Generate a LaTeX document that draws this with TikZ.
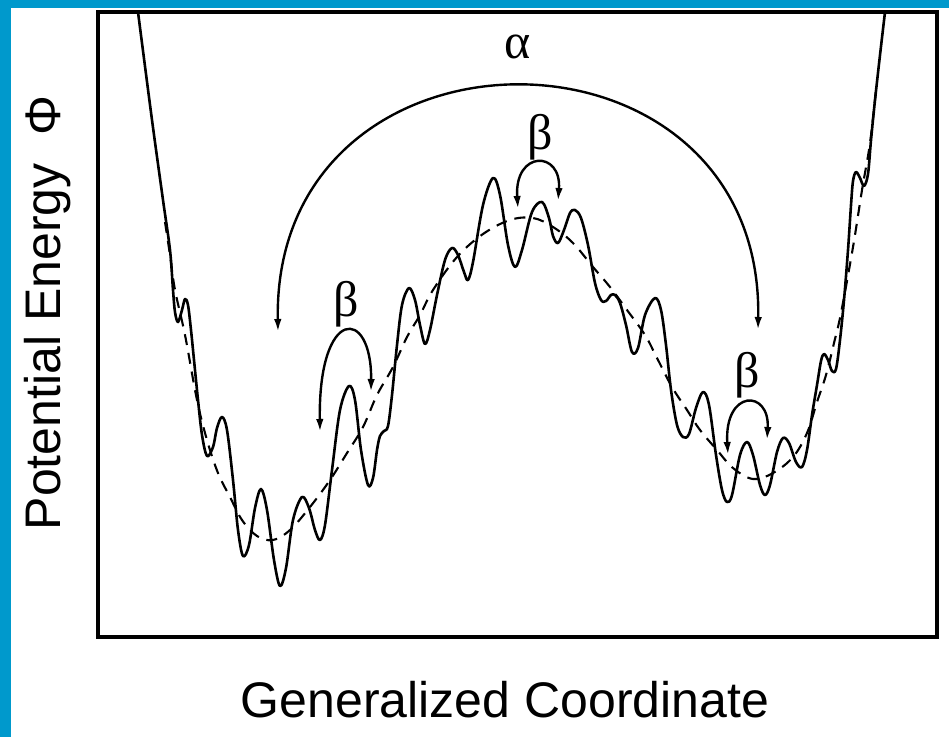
\documentclass[tikz,border=0pt]{standalone}
\usepackage{fontspec}
\setmainfont{Liberation Sans}
\newfontfamily\grk{Liberation Serif}
\usetikzlibrary{arrows.meta}
\definecolor{frameblue}{RGB}{0,153,204}
\begin{document}
\begin{tikzpicture}[x=1pt,y=-1pt,
  curve/.style={line width=2.6pt, line join=round, line cap=round},
  envelope/.style={line width=2.1pt, dash pattern=on 11pt off 8pt},
  hop/.style={line width=2.4pt, {Latex[length=13pt,width=7.5pt]}-{Latex[length=13pt,width=7.5pt]}},
  greek/.style={font=\grk\fontsize{50}{54}\selectfont, inner sep=0pt},
  axislabel/.style={font=\fontsize{50}{60}\selectfont, inner sep=0pt}]
\useasboundingbox (0,0) rectangle (949,737);
\fill[white] (0,0) rectangle (949,737);
\fill[frameblue] (0,0) rectangle (949,8);
\fill[frameblue] (0,0) rectangle (11,737);
\draw[line width=3.2pt] (98,12) rectangle (937,637);
% solid potential
\draw[curve] plot[smooth, tension=0.55] coordinates {
(138,12) (152,120) (163,200) (170,250) (173,290) (175,312) (178,322) (182,310) (185,299) (188,305) (191,330) (194,360)
(198,400) (202,435) (207,456) (213,447) (217,428) (222,417) (227,430) (233,480) (238,530) (243,556) (249,545) (255,508) (261,489) (267,510) (274,560) (280,586) (286,568) (293,520) (302,497) (309,508) (315,530) (320,540) (325,525) (332,470) (340,410) (349,386) (355,400) (361,450) (368,485) (373,478)
(377,450) (380,436) (384,431) (388,426) (392,395) (397,345) (402,305) (409,288) (415,300) (420,325) (425,344) (430,330) (437,295) (445,260) (452,248) (458,255) (464,272) (468,280) (473,262) (483,205) (493,178) (500,195) (508,245) (515,267) (522,250) (532,212) (542,202) (549,218) (553,236) (558,243) (564,230) (570,213) (575,210) (581,218) (588,245) (595,283) (601,300) (606,301) (611,295) (615,295) (620,303) (626,325) (632,352) (638,348) (645,315) (655,298) (661,310) (666,345) (671,390) (677,425) (683,437) (689,434) (696,408) (703,392) (709,405) (716,455) (722,490) (727,502) (732,495) (740,455) (747,442) (753,455) (760,485) (765,495) (770,485) (777,452) (783,438) (789,443) (796,462) (802,467) (807,450) (812,415) (817,385) (821,361) (824,354) (828,360) (832,371) (836,369) (840,340) (844,300) (848,250) (851,205) (853,181) (856,172) (860,178) (864,186) (868,174) (871,140) (875,100) (880,55) (885,12)};
% dashed envelope
\draw[envelope] plot[smooth, tension=0.6] coordinates {
(165,222) (170,255) (175,290) (185,335) (197,400) (207,440) (218,473) (230,497) (242,520) (257,536) (273,540) (290,530) (310,507) (330,480) (347,453) (363,427) (377,395) (393,367) (407,337) (420,315) (433,290) (457,257) (483,234) (510,220) (533,218) (553,227) (573,243) (593,267) (610,287) (627,310) (645,335) (657,358) (672,387) (687,410) (700,430) (717,450) (733,468) (753,479) (773,473) (793,457) (807,433) (817,402) (826,375) (834,343) (841,313) (853,247) (862,190) (870,143) (876,90)};
% hops
\coordinate (aL) at (278,332);
\coordinate (aR) at (758,330);
\draw[hop] (aL) .. controls (272,6) and (764,6) .. (aR);
\node[greek] (alpha) at (518,47) {α};
\coordinate (b1L) at (320,432);
\coordinate (b1R) at (371,392);
\draw[hop] (b1L) .. controls (318,306) and (372,306) .. (b1R);
\node[greek] (beta1) at (346,304) {β};
\coordinate (b2L) at (518,209);
\coordinate (b2R) at (558,201);
\draw[hop] (b2L) .. controls (514,150) and (562,150) .. (b2R);
\node[greek] (beta2) at (540,137) {β};
\coordinate (b3L) at (728,455);
\coordinate (b3R) at (767,440);
\draw[hop] (b3L) .. controls (724,389) and (770,389) .. (b3R);
\node[greek] (beta3) at (747,375) {β};
% axis labels
\node[axislabel, anchor=base] (xlabel) at (505,717) {Generalized Coordinate};
\node[axislabel, anchor=base, rotate=90] (ylabel) at (60,313) {Potential Energy\hspace{0.55em}Φ};
\end{tikzpicture}
\end{document}
